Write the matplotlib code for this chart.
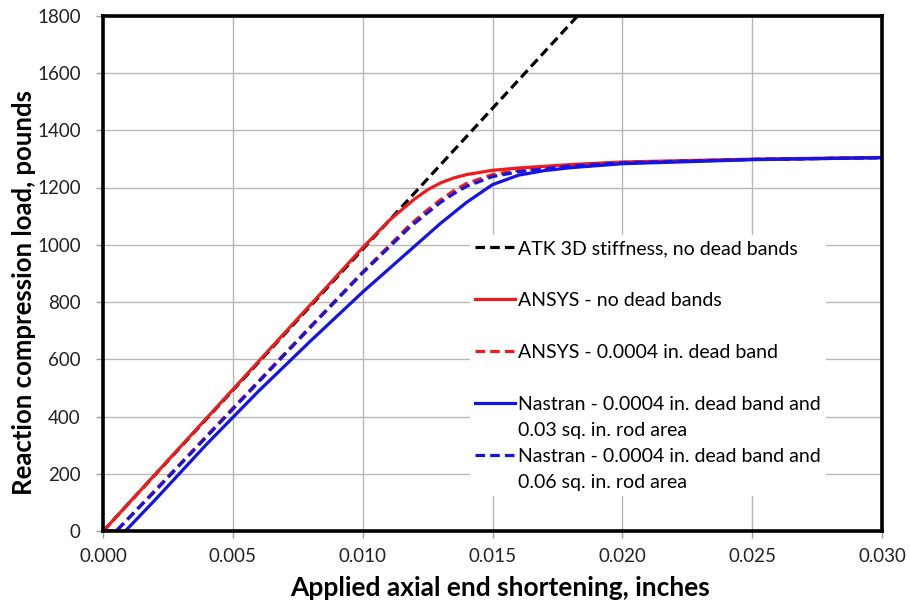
import matplotlib
matplotlib.use("Agg")
import matplotlib.pyplot as plt
from matplotlib.lines import Line2D

plt.rcParams['font.family'] = ['Lato', 'DejaVu Sans']

# ---- data ----
atk_x = [0.0, 0.019]
atk_y = [0, 1870]

ansys_x = [0, 0.002, 0.004, 0.006, 0.008, 0.010, 0.011, 0.0115, 0.012, 0.0125,
           0.013, 0.0135, 0.014, 0.015, 0.016, 0.018, 0.020, 0.025, 0.030]
ansys_y = [0, 198, 396, 594, 792, 990, 1083, 1122, 1160, 1192,
           1216, 1233, 1245, 1260, 1268, 1280, 1289, 1299, 1305]

ansys_db_x = [0, 0.0005, 0.002, 0.004, 0.006, 0.008, 0.010, 0.011, 0.0118, 0.0125,
              0.013, 0.0135, 0.014, 0.015, 0.016, 0.018, 0.020, 0.025, 0.030]
ansys_db_y = [0, 0, 143, 334, 525, 716, 905, 995, 1068, 1122,
              1157, 1188, 1214, 1245, 1260, 1277, 1287, 1298, 1304]

nas03_x = [0, 0.00085, 0.002, 0.004, 0.006, 0.008, 0.010, 0.011, 0.012, 0.013,
           0.014, 0.015, 0.016, 0.017, 0.018, 0.020, 0.025, 0.030]
nas03_y = [0, 0, 109, 305, 490, 665, 835, 915, 995, 1075,
           1148, 1210, 1243, 1259, 1269, 1283, 1297, 1304]

nas06_x = [0, 0.0005, 0.002, 0.004, 0.006, 0.008, 0.010, 0.011, 0.0118, 0.0125,
           0.013, 0.0135, 0.014, 0.015, 0.016, 0.018, 0.020, 0.025, 0.030]
nas06_y = [0, 0, 140, 331, 522, 713, 902, 990, 1060, 1112,
           1148, 1178, 1204, 1238, 1255, 1275, 1286, 1298, 1304]

labels = ["ATK 3D stiffness, no dead bands",
          "ANSYS - no dead bands",
          "ANSYS - 0.0004 in. dead band",
          "Nastran - 0.0004 in. dead band and",
          "0.03 sq. in. rod area",
          "Nastran - 0.0004 in. dead band and",
          "0.06 sq. in. rod area"]

x_ticks = [0.000, 0.005, 0.010, 0.015, 0.020, 0.025, 0.030]
y_ticks = list(range(0, 1801, 200))

# ---- figure ----
fig = plt.figure(figsize=(9.1, 6.1), dpi=100)
ax = fig.add_axes([103/910, 1-531.3/610, (882-103)/910, (531.3-15.6)/610])

lw = 2.3
RED = '#ee1c1c'
BLUE = '#1414e6'
DASH = (3, 1.6)
ax.plot(atk_x, atk_y, color='black', lw=lw, dashes=DASH, zorder=3)
ax.plot(ansys_x, ansys_y, color=RED, lw=lw, zorder=4)
ax.plot(ansys_db_x, ansys_db_y, color=RED, lw=lw, dashes=DASH, zorder=5)
ax.plot(nas03_x, nas03_y, color=BLUE, lw=lw, zorder=6)
ax.plot(nas06_x, nas06_y, color=BLUE, lw=lw, dashes=DASH, zorder=7)

ax.set_xlim(0, 0.030)
ax.set_ylim(0, 1800)
ax.set_xticks(x_ticks)
ax.set_xticklabels([f"{v:.3f}" for v in x_ticks])
ax.set_yticks(y_ticks)
ax.set_yticklabels([str(v) for v in y_ticks])
ax.grid(True, color='#b8b8b8', lw=1.0, zorder=0)
ax.set_axisbelow(True)
ax.tick_params(axis='both', direction='out', length=5, width=1, color='#a0a0a0',
               labelsize=13.5, labelcolor='#222222')
ax.tick_params(axis='x', pad=7)
ax.tick_params(axis='y', pad=11)
for s in ax.spines.values():
    s.set_color('black')
    s.set_linewidth(2.6)
    s.set_zorder(10)

ax.set_xlabel("Applied axial end shortening, inches", fontsize=19,
              fontweight='bold')
ax.set_ylabel("Reaction compression load, pounds", fontsize=18.5,
              fontweight='bold')
ax.xaxis.set_label_coords((500-103)/779, (531.3-576)/515.7)
ax.yaxis.set_label_coords((36-103)/779, (531.3-292)/515.7)

# legend: rows reproduced with blank spacer rows like the reference
blank = Line2D([], [], color='none')
h_atk = Line2D([], [], color='black', lw=lw, dashes=DASH)
h_an = Line2D([], [], color=RED, lw=lw)
h_andb = Line2D([], [], color=RED, lw=lw, dashes=DASH)
h_n3 = Line2D([], [], color=BLUE, lw=lw)
h_n6 = Line2D([], [], color=BLUE, lw=lw, dashes=DASH)
handles = [h_atk, blank, h_an, blank, h_andb, blank, h_n3, blank, h_n6, blank]
leg_labels = [labels[0], " ", labels[1], " ", labels[2], " ",
              labels[3], labels[4], labels[5], labels[6]]
leg = ax.legend(handles, leg_labels, loc='upper left',
                bbox_to_anchor=((470-103)/779, (531.3-235)/515.7),
                fontsize=14, frameon=True, fancybox=False, framealpha=1,
                facecolor='white', edgecolor='none', borderpad=0.26,
                labelspacing=0.46, handlelength=2.06, handletextpad=0.15,
                borderaxespad=0)
leg.set_zorder(8)

fig.savefig("out.png", dpi=100)
